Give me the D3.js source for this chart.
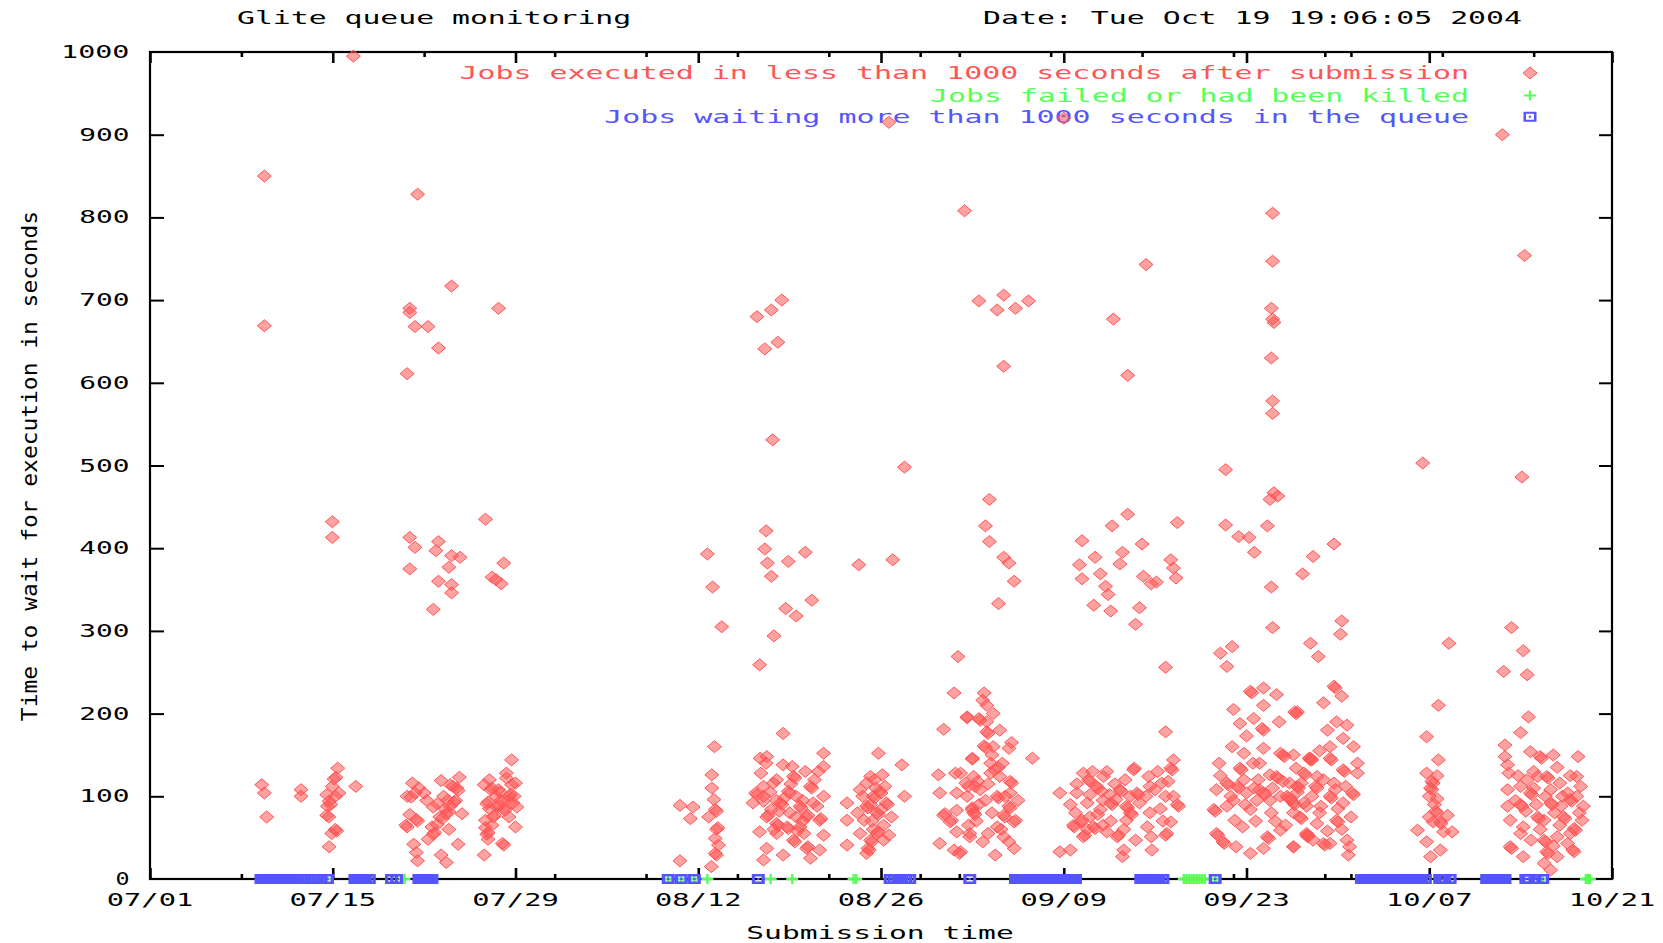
<!DOCTYPE html>
<html>
<head>
<meta charset="utf-8">
<script src="https://cdn.jsdelivr.net/npm/d3@7"></script>
<style>
  body { margin: 0; background: #fff; }
  svg text { font-family: "DejaVu Sans Mono", monospace; }
</style>
</head>
<body>
<div id="chart"></div>
<script>
// ---- data ----
var titleText = "Glite queue monitoring";
var dateText = "Date: Tue Oct 19 19:06:05 2004";
var xTitle = "Submission time";
var yTitle = "Time to wait for execution in seconds";
var yTicks = [0, 100, 200, 300, 400, 500, 600, 700, 800, 900, 1000];
var xTickLabels = ["07/01", "07/15", "07/29", "08/12", "08/26", "09/09", "09/23", "10/07", "10/21"];
var legendLabels = [
    "Jobs executed in less than 1000 seconds after submission",
    "Jobs failed or had been killed",
    "Jobs waiting more than 1000 seconds in the queue"
];

// [days after 07/01, seconds waited]
var executedJuly = [
    [8.76,850],[8.76,669],[15.58,995],[13.97,432],[13.97,413],
    [8.56,114],[8.76,104],[8.94,75],[11.57,108],[11.57,100],
    [14.38,134],[14.25,123],[14.1,121],[13.97,112],[13.54,102],[13.72,94],[13.85,90],[13.6,88],[13.54,77],[13.7,75],
    [14.3,58],[14.2,60],[13.92,55],[13.72,39],[14.48,104],[14.2,100],[15.76,112],
    [20.5,828],[23.1,717],[19.9,690],[19.9,685],[26.7,690],[20.3,668],[21.3,668],[22.1,642],[19.7,611],
    [19.9,413],[20.3,401],[19.9,375],[22.1,408],[21.9,397],[23.1,391],[23.75,389],[22.9,377],[22.1,360],[23.1,356],
    [23.1,346],[21.7,326],[25.7,435],[27.1,382],[26.2,365],[26.5,362],[26.9,357],
    [20.1,116],[19.7,100],[20.0,99],[20.3,104],[19.7,63],[19.6,65],[19.9,78],[20.4,72],[20.5,70],[20.2,42],[20.4,32],[20.5,22],
    [22.3,119],[23.2,112],[23.0,114],[23.7,123],[23.6,107],[21.7,87],[22.2,75],[22.4,73],[22.7,79],[22.9,81],[23.3,93],
    [23.4,95],[23.9,79],[21.6,63],[21.7,54],[21.8,56],[22.3,29],[22.7,20],[23.6,42],[21.2,95],[22.0,91],[22.6,85],[21.0,104],
    [25.6,114],[26.1,108],[26.2,110],[26.7,108],[27.3,122],[27.7,114],[28.0,116],[27.7,144],[27.5,100],[27.6,102],
    [25.8,91],[25.9,93],[26.6,87],[26.7,89],[27.2,83],[27.1,85],[26.3,75],[26.4,77],[25.7,71],[27.5,75],[25.8,54],
    [25.9,56],[27.1,41],[27.0,43],[25.6,29],[25.7,62],[28.0,63],[28.1,87],[26.9,95],[27.9,100],[26.0,120],[27.3,128],
    [20.6,110],[22.5,100],[22.8,95],[23.0,88],[22.0,66],[23.5,110],[26.5,100],[26.8,105],[27.4,95],[26.0,85],
    [27.8,92],[26.2,65],[25.9,48],[22.9,60],[21.3,48]
];
var executedAugust = [
    [40.6,89],[41.6,87],[41.4,73],[40.6,22],
    [43.24,160],[43.04,126],[43.04,110],[43.2,96],[43.3,84],[43.4,82],[42.8,75],[43.4,60],[43.5,62],[43.3,49],
    [43.55,41],[43.4,29],[43.3,31],[43.0,15],[42.7,393],[43.1,353],[43.8,305],
    [46.5,680],[47.6,688],[48.4,700],[47.1,641],[48.1,649],[47.7,531],[47.2,421],[47.1,399],[47.3,382],[47.6,366],
    [48.9,384],[50.2,395],[48.7,327],[49.5,318],[50.7,337],[47.8,294],[46.7,259],
    [46.74,146],[47.25,148],[48.5,176],[51.6,152],[51.6,136],[51.2,130],[48.5,138],[49.2,136],[49.3,124],[49.4,122],
    [47.76,116],[47.0,112],[50.6,112],[50.7,110],[46.4,104],[46.5,102],[47.0,94],[48.3,92],[48.4,90],[48.9,106],
    [49.0,104],[49.8,88],[49.9,86],[51.1,88],[51.6,100],[51.3,71],[51.4,73],[47.25,75],[47.35,77],[48.0,67],[48.1,65],
    [48.8,63],[48.9,61],[49.8,63],[50.3,75],[50.4,77],[46.7,57],[48.0,55],[50.1,55],[51.6,53],[49.3,47],[49.4,45],
    [50.3,37],[50.4,39],[47.25,37],[48.5,29],[50.6,25],[47.0,23],[51.3,35],[50.0,95],[49.5,100],[48.0,120],[50.2,130],
    [46.2,92],[47.6,84],
    [47.0,100],[47.5,105],[48.0,95],[48.6,98],[49.0,80],[49.5,75],[50.0,70],[49.6,58],[50.8,92],[48.2,82],[47.8,60],
    [49.1,115],[50.9,120],[46.8,128],[47.2,140],
    [55.8,152],[57.6,138],[56.1,126],[55.2,124],[54.9,116],[54.4,108],[55.9,106],[56.0,104],[55.4,100],[55.5,98],
    [56.4,92],[56.5,90],[54.9,88],[55.0,86],[55.7,80],[55.8,78],[54.7,71],[56.2,65],[57.8,100],[53.4,92],[53.4,71],
    [53.4,41],[54.4,55],[55.2,47],[55.3,45],[55.0,37],[55.1,35],[55.7,55],[55.8,57],[56.6,53],[56.2,47],[54.9,31],
    [56.3,112],[55.5,120],
    [55.2,90],[55.6,110],[56.0,84],[55.3,70],[54.6,100],[56.8,75],[55.4,60],[54.2,80],
    [54.3,380],[56.9,386],[57.8,498],[56.6,915],
    [61.6,225],[60.8,181],[60.4,126],[61.7,128],[60.5,104],[61.8,104],[60.8,77],[60.9,79],[61.8,83],[61.3,69],
    [61.4,71],[61.8,57],[60.5,43],[61.6,35],[61.9,269]
];
var executedSeptember = [
    [62.4,808],[63.5,699],[65.4,706],[64.9,688],[66.3,690],[67.3,699],[65.4,620],[64.3,459],[64.0,427],[64.3,408],
    [65.4,389],[65.8,382],[66.2,360],[65.0,333],
    [62.6,195],[63.0,145],[62.5,116],[63.2,112],[62.97,84],[63.0,86],[62.8,55],[62.0,31],
    [63.9,225],[63.8,216],[64.1,210],[62.6,196],[63.5,194],[63.6,192],[64.1,190],[64.1,178],[64.2,176],[65.1,180],
    [63.9,161],[64.0,159],[64.6,160],[65.8,158],[64.5,150],[63.0,146],[67.6,146],[62.1,128],[63.1,124],[64.4,128],
    [65.1,124],[65.9,118],[66.0,116],[62.7,112],[63.6,108],[64.9,100],[65.0,98],[65.9,104],[62.6,100],[65.8,88],
    [65.9,86],[63.1,80],[63.2,78],[66.2,69],[66.3,71],[65.4,77],[65.5,75],[64.9,63],[62.7,65],[62.8,51],[65.4,51],
    [65.8,45],[66.2,37],[64.75,29],[62.1,33],[64.4,140],[64.0,95],[63.3,70],[65.0,135],
    [63.4,118],[64.2,115],[64.7,132],[65.3,140],[63.5,90],[64.5,80],[65.2,60],[66.5,95],[63.8,45],[64.2,55],
    [66.0,165],[64.6,200],[65.5,100],
    [70.0,920],[73.8,677],[74.9,609],[76.3,743],
    [71.4,409],[71.2,380],[71.4,363],[72.4,389],[72.8,369],[73.2,354],[73.4,344],[73.6,324],[72.3,331],[73.7,427],
    [74.9,441],[74.5,395],[74.3,381],[76.0,405],[76.1,366],[75.8,328],[75.5,308],[76.7,357],[77.1,359],[78.2,386],
    [78.4,376],[78.6,364],[78.7,431],
    [69.7,104],[71.5,128],[71.9,120],[73.05,124],[73.3,130],[72.5,112],[72.6,110],[71.0,104],[72.0,102],[73.5,102],
    [75.35,132],[75.4,134],[74.7,120],[74.3,108],[74.4,106],[73.6,92],[73.7,90],[72.8,84],[75.1,100],[75.6,104],
    [75.7,102],[74.8,88],[74.9,86],[70.9,80],[71.3,69],[71.4,71],[70.75,65],[70.8,63],[72.0,75],[72.3,63],[72.4,61],
    [73.0,65],[71.5,51],[71.6,53],[74.1,51],[74.2,53],[73.3,57],[74.8,71],[75.1,80],[75.2,78],[76.5,124],[76.6,112],
    [77.5,116],[77.8,100],[78.4,100],[78.2,134],[78.3,132],[78.4,144],[78.7,90],[78.8,88],[78.2,69],[77.4,85],
    [76.6,80],[76.4,63],[77.8,53],[77.9,55],[76.7,51],[75.5,47],[74.6,35],[74.5,27],[76.75,35],[69.7,33],[70.5,35],
    [77.8,178],[77.8,256],[73.0,95],[71.8,92],[70.5,90],[72.2,130],
    [72.0,118],[72.9,106],[73.9,115],[74.0,96],[71.8,60],[72.6,78],[73.6,70],[75.8,92],[76.3,100],[77.0,108],
    [77.2,130],[77.6,70],[78.0,118],[71.0,115],[74.6,60],
    [86.0,805],[86.0,747],[85.9,690],[86.0,677],[86.1,673],[85.9,630],[86.0,578],[86.0,563],[82.4,495],[86.1,467],
    [86.4,463],[85.8,459],[82.4,428],[85.6,427],[83.4,414],[84.2,413],[84.6,395],[85.9,353],[86.0,304],[88.3,369],
    [89.1,390],[90.7,405],[91.3,312],[91.2,296],
    [82.0,273],[82.9,281],[82.5,257],[84.3,227],[84.4,225],[85.3,231],[86.3,223],[85.3,210],[87.7,202],[87.8,200],
    [83.5,188],[84.55,194],[85.2,182],[85.3,180],[82.9,160],[83.8,152],[85.3,158],[86.6,152],[86.8,150],[86.9,148],
    [81.9,140],[83.5,134],[83.6,132],[84.5,140],[88.8,146],[88.9,144],[87.8,134],[85.8,126],[81.7,108],[82.5,116],
    [82.6,114],[83.3,112],[83.4,110],[84.0,104],[85.0,108],[86.3,124],[86.4,122],[87.3,116],[88.4,128],[88.5,126],
    [81.5,84],[81.6,82],[82.5,88],[84.3,84],[85.3,104],[85.4,102],[87.1,100],[87.2,98],[87.6,92],[87.7,90],[88.6,88],
    [85.9,80],[83.1,71],[83.7,63],[81.7,55],[81.8,53],[82.2,45],[82.3,43],[83.2,39],[84.3,31],[85.3,37],[85.6,51],
    [85.7,49],[86.6,59],[87.6,39],[88.6,55],[88.7,53],[89.1,47],[87.6,80],[86.6,100],[84.8,95],[83.0,95],[82.0,125],
    [84.9,120],[86.0,110],
    [83.8,120],[84.6,110],[85.8,95],[86.8,118],[87.9,105],[88.2,116],[89.9,120],[90.8,108],[91.6,112],[82.8,100],
    [83.9,90],[84.7,70],[86.2,70],[87.0,65],[89.6,80],[90.2,58],[91.3,60],[85.0,140],[89.6,155],[86.5,190],[84.0,173],
    [90.9,190],[83.0,205],
    [88.9,285],[89.5,269],[90.7,233],[90.8,231],[91.3,221],[89.9,213],[87.9,202],[91.7,186],[90.2,180],[91.4,170],
    [90.4,160],[88.9,146],[89.0,144],[90.4,146],[90.5,144],[87.6,150],[91.4,132],[91.5,130],[89.4,124],[90.7,116],
    [87.9,112],[88.0,110],[89.3,112],[89.4,110],[90.4,100],[90.5,98],[87.4,96],[88.4,92],[89.7,88],[91.4,92],
    [88.1,75],[88.2,73],[90.9,71],[91.0,69],[89.4,67],[88.6,53],[88.7,51],[89.9,43],[90.0,41],[90.4,43],[87.6,39],
    [91.7,47],[91.9,39],[91.8,29],[91.0,85],[89.0,100]
];
var executedOctober = [
    [92.2,160],[92.5,140],[92.5,128],[92.1,104],[92.2,102],[92.0,75],
    [97.5,503],[99.5,285],[98.7,210],[97.8,172],[98.7,144],[97.8,128],[98.2,118],[98.3,116],[98.1,110],[98.2,108],
    [98.0,100],[98.6,97],[98.5,82],[98.6,80],[99.4,77],[98.85,69],[98.9,67],[98.3,69],[97.1,59],[99.75,57],[99.1,57],
    [97.8,45],[98.85,35],[98.1,27],[98.4,90],[98.6,125],[98.0,75],
    [103.6,900],[105.3,754],[105.1,486],[104.3,304],[105.2,276],[103.7,251],[105.5,247],[105.6,196],[105.0,177],
    [103.8,162],[103.8,148],[104.0,138],[104.1,128],[105.75,154],[106.5,148],[106.6,146],[107.5,150],[109.4,148],
    [106.3,124],[107.0,124],[107.1,122],[108.0,116],[109.3,124],[104.0,108],[105.0,112],[105.75,104],[105.85,102],
    [107.3,108],[108.6,104],[109.6,112],[104.0,88],[105.0,90],[105.1,88],[106.3,75],[106.4,73],[107.3,92],[107.4,90],
    [108.1,88],[108.8,96],[108.9,94],[109.8,88],[104.2,71],[105.2,63],[106.8,71],[108.3,75],[108.4,73],[109.1,61],
    [109.2,59],[109.7,71],[105.0,55],[106.8,47],[106.9,45],[105.8,47],[107.8,51],[108.6,43],[109.0,35],[109.1,33],
    [104.2,39],[104.3,37],[105.2,27],[107.0,33],[107.1,31],[107.8,27],[106.8,19],[107.3,11],[106.0,130],[107.8,135],
    [108.2,100],[106.2,90],[104.8,125],
    [105.5,120],[106.0,110],[106.9,100],[107.6,80],[108.0,65],[108.8,55],[109.3,100],[105.4,82],[104.6,95],[106.5,60],
    [107.5,40],[108.8,125],[109.5,80]
];

// days after 07/01 of failed / killed jobs (plotted at 0)
var failedDays = [11.6, 12.6, 13.5, 19.5, 39.7, 40.7, 41.7, 42.7, 47.55, 49.2, 53.9, 54.1,
    79.2, 79.4, 79.6, 79.8, 80.0, 80.2, 80.4, 80.6, 80.8, 81.6, 92.9, 106.7, 110.0, 110.15, 110.3];

// days after 07/01 of jobs waiting more than 1000 s (plotted at 0)
var waitingDays = [8.5, 8.7, 8.9, 9.1, 9.3, 9.5, 9.7, 9.9, 10.1, 10.3, 10.5, 10.7, 10.9, 11.1, 11.6, 12.1, 12.6, 13.1, 13.6,
    15.7, 15.9, 16.1, 16.3, 16.5, 16.8,
    18.5, 18.9,
    20.6, 20.8, 21.0, 21.2, 21.4, 21.6,
    39.7, 40.7, 41.7,
    46.6,
    56.7, 57.0, 57.3, 57.6, 57.9, 58.2,
    62.8,
    66.3, 66.5, 66.7, 66.9, 67.1, 67.3, 67.5, 67.7, 67.9, 68.1, 68.3, 68.5, 68.7, 68.9, 69.1, 69.3, 69.5, 69.7,
    69.9, 70.1, 70.3, 70.5, 70.7, 70.9,
    75.9, 76.1, 76.3, 76.5, 76.7, 76.9, 77.1, 77.3, 77.6,
    81.6,
    92.8, 93.0, 93.2, 93.4, 93.6, 93.8, 94.0, 94.2, 94.4, 94.6, 94.8, 95.0, 95.2, 95.4, 95.6, 95.8, 96.0, 96.2,
    96.4, 96.6, 96.8, 97.0, 97.2, 97.4, 97.7,
    98.8, 99.0, 99.2, 99.6,
    102.4, 102.6, 102.8, 103.0, 103.2, 103.4, 103.6, 103.8,
    105.4, 105.6, 106.1, 106.7];

// ---- drawing ----
var width = 1663, height = 943;
var plotLeft = 150, plotRight = 1612, plotTop = 52, plotBottom = 879;
var red = "#ff5555", green = "#55ff55", blue = "#5555ff";
var charW = 18.1;

var svg = d3.select("#chart").append("svg")
    .attr("width", width)
    .attr("height", height);

var startDate = new Date(2004, 6, 1);
var endDate = new Date(2004, 9, 21);
var toDate = function (d) { return new Date(startDate.getTime() + d * 864e5); };
var parseTick = d3.timeParse("%Y/%m/%d");

var x = d3.scaleTime().domain([startDate, endDate]).range([plotLeft, plotRight]);
var y = d3.scaleLinear().domain([0, 1000]).range([plotBottom, plotTop]);

// pixel font look: monospace stretched to the cell width
function label(g, str, xPos, yPos, anchor, color, size, cell) {
    var len = str.length * (cell || charW) - 4;
    var x0 = anchor === "end" ? xPos - len : anchor === "middle" ? xPos - len / 2 : xPos;
    return g.append("text")
        .attr("x", x0)
        .attr("y", yPos)
        .attr("textLength", len)
        .attr("lengthAdjust", "spacingAndGlyphs")
        .attr("font-size", size || 17)
        .attr("fill", color || "#000")
        .text(str);
}

// titles
label(svg, titleText, 237, 24, "start");
label(svg, dateText, 983, 24, "start");
label(svg, xTitle, 880, 939, "middle");
var yt = svg.append("g").attr("transform", "translate(37,466) rotate(-90)");
label(yt, yTitle, 0, 0, "middle", "#000", 21, 13.9);

// axes (ticks inward, like gnuplot)
var majorDates = xTickLabels.map(function (t) { return parseTick("2004/" + t); });
var minorDates = d3.timeDay.every(7).range(startDate, endDate).filter(function (d) {
    return !majorDates.some(function (m) { return +m === +d; });
});

function tickAxis(axis, tx, ty, sw) {
    var g = svg.append("g").attr("transform", "translate(" + tx + "," + ty + ")").call(axis);
    g.select(".domain").remove();
    g.selectAll("text").remove();
    g.selectAll("line").attr("stroke", "#000").attr("stroke-width", sw);
    return g;
}
tickAxis(d3.axisLeft(y).tickValues(yTicks.slice(1, -1)).tickSize(-14), plotLeft, 0, 2);
tickAxis(d3.axisRight(y).tickValues(yTicks.slice(1, -1)).tickSize(-13), plotRight, 0, 2);
tickAxis(d3.axisBottom(x).tickValues(majorDates).tickSize(-11), 0, plotBottom, 2.6);
tickAxis(d3.axisBottom(x).tickValues(minorDates).tickSize(-5), 0, plotBottom, 2.6);
tickAxis(d3.axisTop(x).tickValues(majorDates).tickSize(-11), 0, plotTop, 2.6);
tickAxis(d3.axisTop(x).tickValues(minorDates).tickSize(-5), 0, plotTop, 2.6);

svg.append("rect")
    .attr("x", plotLeft).attr("y", plotTop)
    .attr("width", plotRight - plotLeft).attr("height", plotBottom - plotTop)
    .attr("fill", "none").attr("stroke", "#000").attr("stroke-width", 2.2);

// tick labels
var labels = svg.append("g");
yTicks.forEach(function (v) {
    label(labels, String(v), 129.5, y(v) + 6, "end");
});
xTickLabels.forEach(function (t, i) {
    label(labels, t, x(majorDates[i]), 906, "middle");
});

// marker shapes
var diamondPath = "M0,-6L7,0L0,6L-7,0Z";
var plusPath = "M-6,0H6M0,-5V5";
var squarePath = "M-6.5,-5H6.5V5H-6.5Z M-4,-3V3H4V-3Z M-1.2,-1H1.2V1H-1.2Z";
var squareDensePath = "M-6.5,-5H6.5V5H-6.5Z M-3.2,-2.6V2.6H3.2V-2.6Z M-1.2,-1H1.2V1H-1.2Z";

// legend
var legendColors = [red, green, blue];
var legendY = [73, 95.5, 116.7];
var legend = svg.append("g");
legendLabels.forEach(function (t, i) {
    label(legend, t, 1469, legendY[i] + 6, "end", legendColors[i]);
});
legend.append("path").attr("d", diamondPath).attr("transform", "translate(1530," + legendY[0] + ")")
    .attr("fill", red).attr("fill-opacity", 0.55).attr("stroke", red).attr("stroke-width", 1);
legend.append("path").attr("d", plusPath).attr("transform", "translate(1530," + legendY[1] + ")")
    .attr("fill", "none").attr("stroke", green).attr("stroke-width", 2.2);
legend.append("path").attr("d", squarePath).attr("transform", "translate(1530," + legendY[2] + ")")
    .attr("fill", blue).attr("fill-rule", "evenodd");

// points
var executed = executedJuly.concat(executedAugust, executedSeptember, executedOctober);

svg.append("g").selectAll("path")
    .data(executed)
    .join("path")
    .attr("d", diamondPath)
    .attr("transform", function (d) { return "translate(" + x(toDate(d[0])) + "," + y(d[1]) + ")"; })
    .attr("fill", red)
    .attr("fill-opacity", 0.55)
    .attr("stroke", red)
    .attr("stroke-width", 1);

svg.append("g").selectAll("path")
    .data(failedDays)
    .join("path")
    .attr("d", plusPath)
    .attr("transform", function (d) { return "translate(" + x(toDate(d)) + "," + y(0) + ")"; })
    .attr("fill", "none")
    .attr("stroke", green)
    .attr("stroke-width", 2.4);

svg.append("g").selectAll("path")
    .data(waitingDays)
    .join("path")
    .attr("d", squareDensePath)
    .attr("transform", function (d) { return "translate(" + x(toDate(d)) + "," + y(0) + ")"; })
    .attr("fill", blue)
    .attr("fill-rule", "evenodd");
</script>
</body>
</html>
